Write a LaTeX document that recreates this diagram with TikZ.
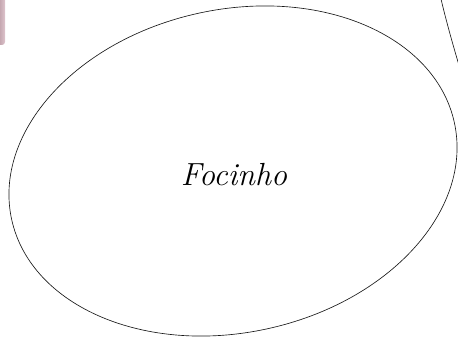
\documentclass[tikz,border=0pt]{standalone}
\begin{document}
\begin{tikzpicture}[x=1pt,y=-1pt,
  outline/.style={draw=black!90,line width=0.65pt},
  label/.style={font=\itshape\fontsize{32}{38}\selectfont, text=black}]
\useasboundingbox (0,0) rectangle (458,337);
\clip (0,0) rectangle (458,337);
% pink fragment top-left
\shade[left color={rgb,255:red,178;green,146;blue,156}, right color={rgb,255:red,222;green,196;blue,204}, rounded corners=3pt]
  (-4,-4) rectangle (5,45);
% outer curve right
\coordinate (c1) at (441,-1);
\coordinate (c2) at (461,72);
\draw[outline] (c1) .. controls (446,20) and (452,42) .. (c2);
% main ellipse
\draw[outline, rotate around={12.35:(233,171)}] (233,171) ellipse [x radius=226.6, y radius=161.5];
\node[label] (focinho) at (234,175) {Focinho};
\end{tikzpicture}
\end{document}
